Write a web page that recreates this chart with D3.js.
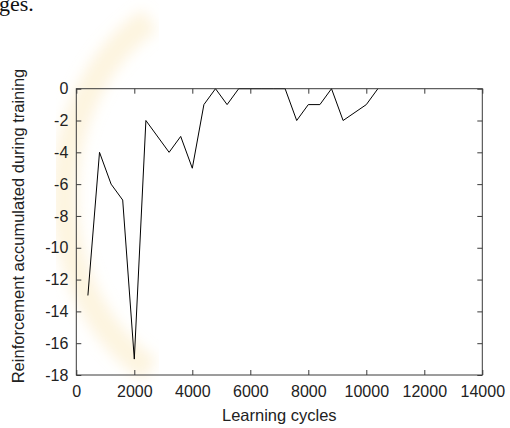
<!DOCTYPE html>
<html>
<head>
<meta charset="utf-8">
<script src="https://cdn.jsdelivr.net/npm/d3@7"></script>
<style>
  html, body { margin: 0; padding: 0; background: #fff; }
  svg { display: block; }
</style>
</head>
<body>
<svg id="chart" width="510" height="428"></svg>
<script>
// ---- data ----
const cycles = [400, 800, 1200, 1600, 2000, 2400, 3200, 3600, 4000, 4400, 4800, 5200, 5600, 6000, 6400, 6800, 7200, 7600, 8000, 8400, 8800, 9200, 10000, 10400];
const reinforcement = [-13, -4, -6, -7, -17, -2, -4, -3, -5, -1, 0, -1, 0, 0, 0, 0, 0, -2, -1, -1, 0, -2, -1, 0];
const xTicks = [0, 2000, 4000, 6000, 8000, 10000, 12000, 14000];
const yTicks = [0, -2, -4, -6, -8, -10, -12, -14, -16, -18];
const xTitle = "Learning cycles";
const yTitle = "Reinforcement accumulated during training";
const fragment = "ges.";

const svg = d3.select("#chart");
const L = 76.3, R = 482.3, T = 88.7, B = 375;
const x = d3.scaleLinear().domain([0, 14000]).range([L, R]);
const y = d3.scaleLinear().domain([-18, 0]).range([B, T]);
const font = "'Liberation Sans', Arial, Helvetica, sans-serif";
const frameColor = "#3a3a3a";
const fmt = d => String(d); // plain hyphen-minus like the original

// faint background watermark (pale crescent behind the figure)
const defs = svg.append("defs");
defs.append("filter").attr("id", "soft").append("feGaussianBlur").attr("stdDeviation", 7);
svg.append("path")
  .attr("d", "M150,20 A165,200 0 0 0 150,370")
  .attr("fill", "none").attr("stroke", "#fbe3b0").attr("stroke-opacity", 0.4)
  .attr("stroke-width", 26).attr("filter", "url(#soft)");

// fragment of page text above the figure
svg.append("text").attr("x", -1).attr("y", 11)
  .attr("font-family", "'Liberation Serif', 'Times New Roman', serif")
  .attr("font-size", 22).attr("fill", "#111").text(fragment);

// axes (ticks inward on all four sides)
function styleAxis(g) {
  g.select(".domain").remove();
  g.selectAll(".tick line").attr("stroke", frameColor).attr("stroke-width", 1);
  g.selectAll(".tick text").attr("font-family", font).attr("font-size", 16).attr("fill", "#222");
}
svg.append("g").attr("transform", `translate(0,${B})`)
  .call(d3.axisBottom(x).tickValues(xTicks).tickSizeInner(-5).tickSizeOuter(0).tickPadding(11).tickFormat(fmt))
  .call(styleAxis);
svg.append("g").attr("transform", `translate(0,${T})`)
  .call(d3.axisTop(x).tickValues(xTicks).tickSizeInner(-5).tickSizeOuter(0).tickFormat(""))
  .call(styleAxis);
svg.append("g").attr("transform", `translate(${L},0)`)
  .call(d3.axisLeft(y).tickValues(yTicks).tickSizeInner(-5).tickSizeOuter(0).tickPadding(8).tickFormat(fmt))
  .call(styleAxis);
svg.append("g").attr("transform", `translate(${R},0)`)
  .call(d3.axisRight(y).tickValues(yTicks).tickSizeInner(-5).tickSizeOuter(0).tickFormat(""))
  .call(styleAxis);

// data line
const pts = cycles.map((c, i) => [c, reinforcement[i]]);
svg.append("path").datum(pts)
  .attr("fill", "none").attr("stroke", "#000").attr("stroke-width", 1)
  .attr("d", d3.line().x(d => x(d[0])).y(d => y(d[1])));

// frame
svg.append("rect").attr("x", L).attr("y", T).attr("width", R - L).attr("height", B - T)
  .attr("fill", "none").attr("stroke", frameColor).attr("stroke-width", 1);

// titles
svg.append("text").attr("x", (L + R) / 2).attr("y", 421).attr("text-anchor", "middle")
  .attr("font-family", font).attr("font-size", 16.5).attr("fill", "#222").text(xTitle);
svg.append("text").attr("transform", "translate(24,226) rotate(-90)").attr("text-anchor", "middle")
  .attr("font-family", font).attr("font-size", 16.5).attr("fill", "#222").text(yTitle);
</script>
</body>
</html>
